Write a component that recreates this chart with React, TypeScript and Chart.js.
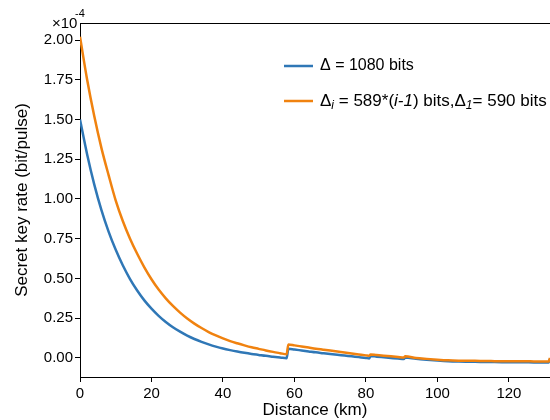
import React, { useEffect, useRef } from 'react';
import { Chart, registerables } from 'chart.js';

Chart.register(...registerables);

// Values in units of 10^-4 bit/pulse
const distanceKm = [
  0, 2, 4, 6, 8, 10, 12, 14, 16, 18, 20, 22, 24, 26, 28, 30, 32, 34, 36, 38, 40,
  42, 44, 46, 48, 50, 52, 54, 56, 57.8,
  58.3, 60, 62, 64, 66, 68, 70, 72, 74, 76, 78, 80, 80.9,
  81.3, 83, 85, 87, 89, 90.6,
  91, 94, 97, 100, 103, 106, 109, 112, 115, 118, 121, 124, 127, 130, 131.1, 131.5,
];

const rateFixedBlock = [
  1.5, 1.28, 1.09, 0.93, 0.795, 0.68, 0.581, 0.496, 0.424, 0.362, 0.31, 0.265, 0.226, 0.193, 0.165, 0.14, 0.119, 0.101, 0.085, 0.071, 0.059,
  0.049, 0.04, 0.032, 0.025, 0.019, 0.013, 0.008, 0.003, -0.002,
  0.058, 0.053, 0.047, 0.041, 0.035, 0.03, 0.025, 0.02, 0.015, 0.01, 0.005, 0.0, -0.003,
  0.012, 0.008, 0.004, 0.0, -0.004, -0.007,
  0.002, -0.006, -0.012, -0.017, -0.021, -0.023, -0.024, -0.025, -0.026, -0.027, -0.027, -0.027, -0.028, -0.028, -0.028, -0.006,
];

const rateVariableBlock = [
  2.02, 1.75, 1.52, 1.32, 1.15, 0.99, 0.86, 0.75, 0.655, 0.57, 0.495, 0.43, 0.375, 0.327, 0.285, 0.248, 0.216, 0.188, 0.163, 0.142, 0.123,
  0.106, 0.092, 0.079, 0.067, 0.057, 0.047, 0.038, 0.03, 0.023,
  0.085, 0.079, 0.072, 0.065, 0.058, 0.052, 0.046, 0.04, 0.034, 0.028, 0.022, 0.016, 0.013,
  0.022, 0.018, 0.014, 0.01, 0.006, 0.003,
  0.01, 0.0, -0.006, -0.011, -0.015, -0.017, -0.018, -0.019, -0.02, -0.021, -0.021, -0.021, -0.022, -0.023, -0.023, 0.0,
];

const xTickValues = [0, 20, 40, 60, 80, 100, 120];
const yTickValues = [0, 0.25, 0.5, 0.75, 1.0, 1.25, 1.5, 1.75, 2.0];

const seriesLabels = ['Δ = 1080 bits', 'Δi = 589*(i-1) bits,Δ1= 590 bits'];
const legendRuns = [
  [{ text: 'Δ = 1080 bits' }],
  [
    { text: 'Δ' },
    { text: 'i', sub: true, italic: true },
    { text: ' = 589*(' },
    { text: 'i-1', italic: true },
    { text: ') bits,' },
    { text: 'Δ' },
    { text: '1', sub: true, italic: true },
    { text: '= 590 bits' },
  ],
];
const legendFontSizes = [16, 17];
const exponentBase = '×10';
const exponentPower = '-4';
const xTitle = 'Distance (km)';
const yTitle = 'Secret key rate (bit/pulse)';

const BLUE = '#2F77B6';
const ORANGE = '#F0820F';
const FONT = '"Liberation Sans", Arial, Helvetica, sans-serif';

type Run = { text: string; sub?: boolean; italic?: boolean };

function drawRuns(ctx: CanvasRenderingContext2D, runs: Run[], x: number, y: number, size: number) {
  let cx = x;
  for (const r of runs) {
    const s = r.sub ? Math.round(size * 0.68) : size;
    ctx.font = `${r.italic ? 'italic ' : ''}${s}px ${FONT}`;
    ctx.fillText(r.text, cx, r.sub ? y + size * 0.28 : y);
    cx += ctx.measureText(r.text).width;
  }
}

const overlayPlugin = {
  id: 'overlay',
  afterDraw(chart: any) {
    const { ctx, chartArea: a } = chart;
    ctx.save();
    // top frame line
    ctx.strokeStyle = '#000';
    ctx.lineWidth = 1;
    ctx.beginPath();
    ctx.moveTo(a.left, Math.round(a.top) + 0.5);
    ctx.lineTo(a.right, Math.round(a.top) + 0.5);
    ctx.stroke();

    ctx.fillStyle = '#000';
    // exponent
    ctx.textBaseline = 'alphabetic';
    ctx.textAlign = 'left';
    ctx.font = `15px ${FONT}`;
    ctx.fillText(exponentBase, a.left - 28, a.top + 5);
    ctx.font = `11px ${FONT}`;
    ctx.fillText(exponentPower, a.left - 5, a.top - 6);

    // axis titles
    ctx.font = `17px ${FONT}`;
    ctx.textAlign = 'center';
    ctx.textBaseline = 'middle';
    ctx.fillText(xTitle, (a.left + a.right) / 2, 410);
    ctx.save();
    ctx.translate(22, (a.top + a.bottom) / 2);
    ctx.rotate(-Math.PI / 2);
    ctx.fillText(yTitle, 0, 0);
    ctx.restore();

    // legend
    const colors = [BLUE, ORANGE];
    const rowY = [66, 101];
    ctx.textAlign = 'left';
    ctx.textBaseline = 'middle';
    for (let i = 0; i < legendRuns.length; i++) {
      ctx.strokeStyle = colors[i];
      ctx.lineWidth = 2.5;
      ctx.beginPath();
      ctx.moveTo(284, rowY[i]);
      ctx.lineTo(313, rowY[i]);
      ctx.stroke();
      ctx.fillStyle = '#000';
      drawRuns(ctx, legendRuns[i] as Run[], 320, rowY[i], legendFontSizes[i]);
    }
    ctx.restore();
  },
};

export default function App() {
  const canvasRef = useRef<HTMLCanvasElement | null>(null);

  useEffect(() => {
    if (!canvasRef.current) return;
    const tickFont = { family: FONT, size: 15 };
    const chart = new Chart(canvasRef.current, {
      type: 'line',
      data: {
        datasets: [
          {
            label: seriesLabels[0],
            data: distanceKm.map((x, i) => ({ x, y: rateFixedBlock[i] })),
            borderColor: BLUE,
            backgroundColor: BLUE,
            borderWidth: 2.5,
            pointRadius: 0,
            cubicInterpolationMode: 'monotone',
            fill: false,
            order: 1,
          },
          {
            label: seriesLabels[1],
            data: distanceKm.map((x, i) => ({ x, y: rateVariableBlock[i] })),
            borderColor: ORANGE,
            backgroundColor: ORANGE,
            borderWidth: 2.5,
            pointRadius: 0,
            cubicInterpolationMode: 'monotone',
            fill: false,
            order: 0,
          },
        ],
      },
      options: {
        animation: false,
        responsive: false,
        devicePixelRatio: 1,
        layout: { padding: { top: 23, left: 0, right: 0, bottom: 0 } },
        plugins: { legend: { display: false }, tooltip: { enabled: false } },
        scales: {
          x: {
            type: 'linear',
            min: 0,
            max: 131.5,
            afterBuildTicks: (s: any) => {
              s.ticks = xTickValues.map((v) => ({ value: v }));
            },
            afterFit: (s: any) => {
              s.height = 43;
            },
            grid: { display: true, drawOnChartArea: false, drawTicks: true, tickLength: 5, color: '#000', lineWidth: 1 },
            border: { display: true, color: '#000', width: 1 },
            ticks: { color: '#000', font: tickFont, padding: 3, maxRotation: 0, autoSkip: false },
          },
          y: {
            type: 'linear',
            min: -0.12,
            max: 2.107,
            afterBuildTicks: (s: any) => {
              s.ticks = yTickValues.map((v) => ({ value: v }));
            },
            afterFit: (s: any) => {
              s.width = 80;
            },
            grid: { display: true, drawOnChartArea: false, drawTicks: true, tickLength: 5, color: '#000', lineWidth: 1 },
            border: { display: true, color: '#000', width: 1 },
            ticks: {
              color: '#000',
              font: tickFont,
              padding: 2,
              autoSkip: false,
              callback: (v: any) => Number(v).toFixed(2),
            },
          },
        },
      },
      plugins: [overlayPlugin],
    } as any);
    return () => chart.destroy();
  }, []);

  return (
    <div style={{ position: 'fixed', left: 0, top: 0, width: 550, height: 420, background: '#fff' }}>
      <canvas ref={canvasRef} width={550} height={420} style={{ width: 550, height: 420 }} />
    </div>
  );
}
